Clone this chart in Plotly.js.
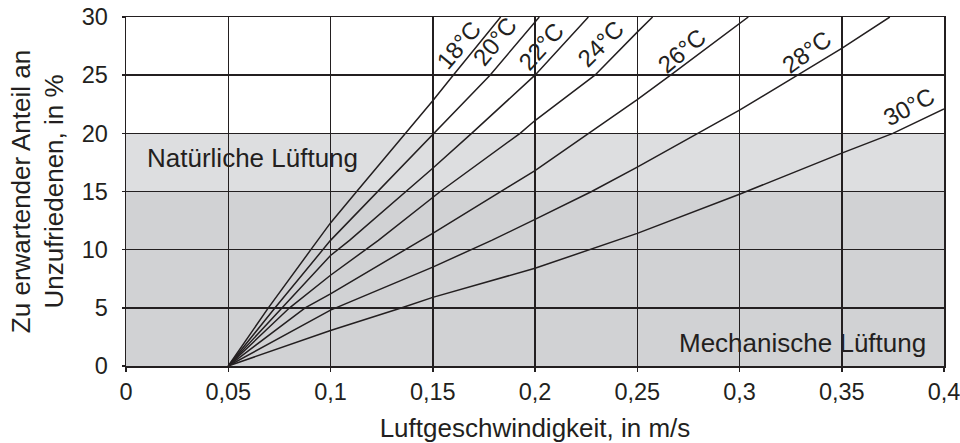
<!DOCTYPE html>
<html>
<head>
<meta charset="utf-8">
<script src="https://cdn.plot.ly/plotly-3.0.1.min.js"></script>
<style>html,body{margin:0;padding:0;background:#fff;}#chart{width:960px;height:443px;}</style>
</head>
<body>
<div id="chart"></div>
<script>
// Tick labels
const xTickVals = [0, 0.05, 0.1, 0.15, 0.2, 0.25, 0.3, 0.35, 0.4];
const xTickText = ['0', '0,05', '0,1', '0,15', '0,2', '0,25', '0,3', '0,35', '0,4'];
const yTickVals = [0, 5, 10, 15, 20, 25, 30];

// Series: air speed (m/s) vs. expected share of dissatisfied (%)
const labels = ['18°C', '20°C', '22°C', '24°C', '26°C', '28°C', '30°C'];
const x18 = [0.05, 0.0696, 0.0904, 0.1, 0.1128, 0.1369, 0.15, 0.160, 0.1832];
const y18 = [0, 5, 10, 12.3, 15, 20, 22.8, 25, 30];
const x20 = [0.05, 0.0729, 0.1, 0.1231, 0.1503, 0.178, 0.2021];
const y20 = [0, 5, 10.8, 15, 20, 25, 30];
const x22 = [0.05, 0.0762, 0.1, 0.1093, 0.137, 0.15, 0.169, 0.2, 0.2261];
const y22 = [0, 5, 9.5, 10.8, 15, 17, 20, 25, 30];
const x24 = [0.05, 0.080, 0.1, 0.1234, 0.1537, 0.1927, 0.2, 0.2293, 0.25, 0.2575];
const y24 = [0, 5, 7.8, 10.8, 15, 20, 21.1, 25, 28.7, 30];
const x26 = [0.05, 0.0876, 0.1, 0.15, 0.2, 0.2265, 0.25, 0.2663, 0.3, 0.3043];
const y26 = [0, 5, 6.2, 11.4, 16.8, 20, 22.9, 25, 29.4, 30];
const x28 = [0.05, 0.1, 0.15, 0.1788, 0.2, 0.2277, 0.25, 0.2798, 0.3, 0.3284, 0.35, 0.3735];
const y28 = [0, 4.8, 8.5, 10.8, 12.6, 15, 17.1, 20, 22.0, 25, 27.3, 30];
const x30 = [0.05, 0.1, 0.1349, 0.15, 0.2, 0.25, 0.3, 0.35, 0.375, 0.4];
const y30 = [0, 3.05, 5, 5.9, 8.4, 11.4, 14.76, 18.3, 20, 22.1];

// Zones
const zoneNames = ['Natürliche Lüftung', 'Mechanische Lüftung'];
const naturalBand = [15, 20];
const mechanicalBand = [0, 15];

const ink = '#231f20';
const font = 'Liberation Sans, Arial, Helvetica, sans-serif';

const xs = [x18, x20, x22, x24, x26, x28, x30];
const ys = [y18, y20, y22, y24, y26, y28, y30];
const traces = xs.map((xv, i) => ({
  x: xv, y: ys[i], type: 'scatter', mode: 'lines', name: labels[i],
  line: {color: ink, width: 1.5}, hoverinfo: 'x+y+name'
}));

// label placement (layout, not data)
const labelPos = [
  {x: 0.1630, y: 27.6, a: -50},
  {x: 0.1802, y: 27.9, a: -51},
  {x: 0.2028, y: 27.5, a: -48},
  {x: 0.2322, y: 27.7, a: -45},
  {x: 0.2720, y: 27.1, a: -40},
  {x: 0.3332, y: 27.0, a: -36},
  {x: 0.3830, y: 22.3, a: -28}
];
const annotations = labelPos.map((p, i) => ({
  x: p.x, y: p.y, xref: 'x', yref: 'y', text: labels[i], showarrow: false,
  textangle: p.a, font: {family: font, size: 24, color: ink}
}));
annotations.push({
  x: 0.0094, y: 17.9, xref: 'x', yref: 'y', text: zoneNames[0], showarrow: false,
  xanchor: 'left', yanchor: 'middle', font: {family: font, size: 26, color: ink}
});
annotations.push({
  x: 0.3922, y: 1.95, xref: 'x', yref: 'y', text: zoneNames[1], showarrow: false,
  xanchor: 'right', yanchor: 'middle', font: {family: font, size: 26, color: ink}
});

const layout = {
  width: 960, height: 443,
  margin: {l: 126, r: 16, t: 17, b: 77},
  paper_bgcolor: '#ffffff', plot_bgcolor: '#ffffff',
  showlegend: false,
  font: {family: font, color: ink, size: 23},
  xaxis: {
    range: [0, 0.4], tickvals: xTickVals, ticktext: xTickText,
    showgrid: true, gridcolor: ink, gridwidth: 1.5,
    showline: true, mirror: true, linecolor: ink, linewidth: 1.5,
    zeroline: false, ticks: 'outside', ticklen: 4, tickwidth: 1.5, tickcolor: ink,
    tickfont: {family: font, size: 23.5, color: ink},
    ticklabeloverflow: 'allow',
    title: {text: 'Luftgeschwindigkeit, in m/s', font: {family: font, size: 26, color: ink}, standoff: 16}
  },
  yaxis: {
    range: [0, 30], tickvals: yTickVals,
    showgrid: true, gridcolor: ink, gridwidth: 1.5,
    showline: true, mirror: true, linecolor: ink, linewidth: 1.5,
    zeroline: false, ticks: 'outside', ticklen: 3, tickwidth: 1.5, tickcolor: ink,
    tickfont: {family: font, size: 23.5, color: ink},
    ticklabelstandoff: 9,
    ticklabeloverflow: 'allow',
    title: {text: 'Zu erwartender Anteil an<br>Unzufriedenen, in %', font: {family: font, size: 26, color: ink}, standoff: 10}
  },
  shapes: [
    {type: 'rect', xref: 'x', yref: 'y', x0: 0, x1: 0.4, y0: naturalBand[0], y1: naturalBand[1],
     fillcolor: '#dddee0', line: {width: 0}, layer: 'below'},
    {type: 'rect', xref: 'x', yref: 'y', x0: 0, x1: 0.4, y0: mechanicalBand[0], y1: mechanicalBand[1],
     fillcolor: '#d1d2d4', line: {width: 0}, layer: 'below'}
  ],
  annotations: annotations
};

Plotly.newPlot('chart', traces, layout, {displayModeBar: false, staticPlot: true});
</script>
</body>
</html>
